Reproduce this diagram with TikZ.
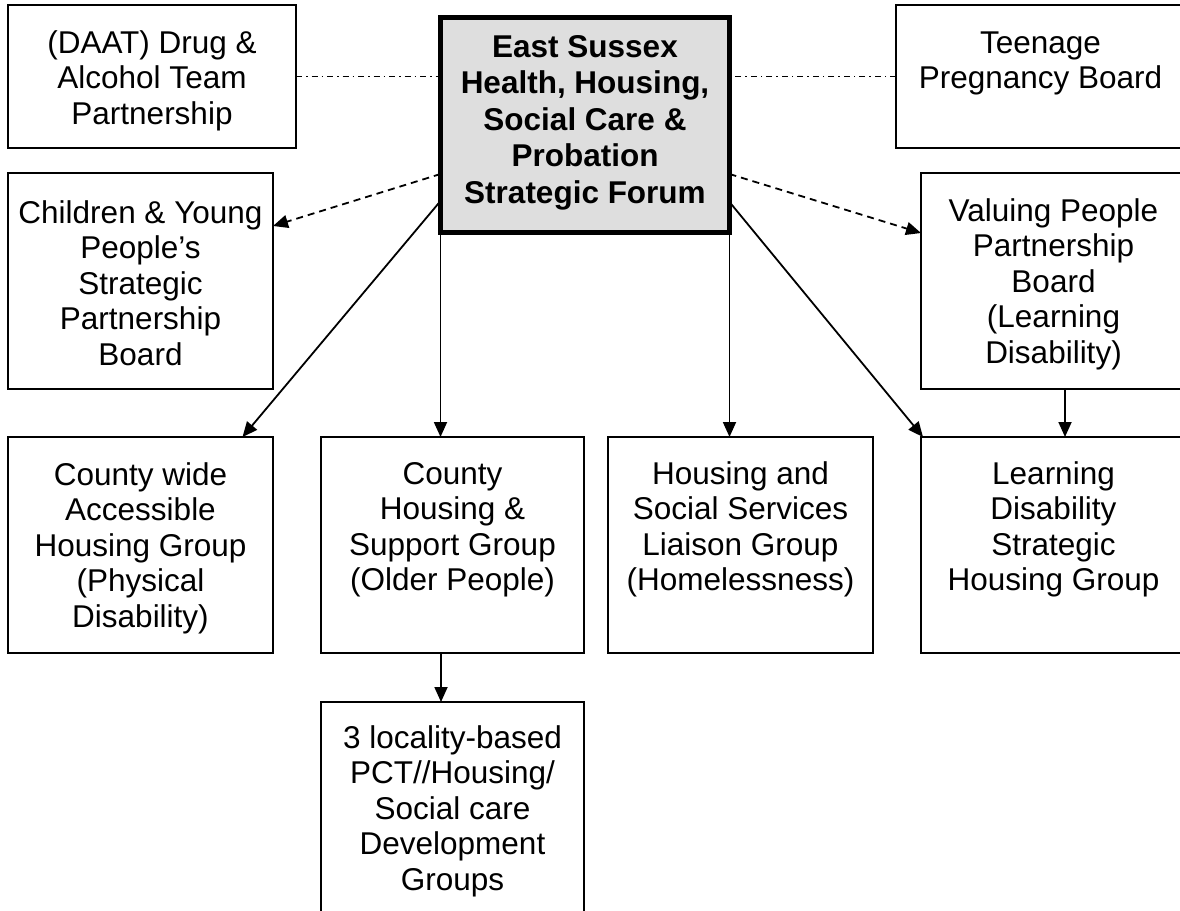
\documentclass[tikz,border=0pt]{standalone}
\usepackage{fontspec}
\setmainfont{Liberation Sans}
\usetikzlibrary{arrows.meta,calc}
\begin{document}
\begin{tikzpicture}[x=1pt,y=-1pt,
  box/.style={draw=black,line width=1.9pt,minimum width=265pt,minimum height=216pt,inner sep=0pt,outer sep=0pt},
  txt/.style={anchor=north,align=center,inner sep=0pt,font=\fontsize{31.5}{35.5}\selectfont},
  ctxt/.style={anchor=north,align=center,inner sep=0pt,font=\fontsize{31.5}{36.5}\selectfont\bfseries},
  arr/.style={line width=1.8pt,-{Triangle[length=15pt,width=13pt]}},
  darr/.style={arr,dash pattern=on 7pt off 5pt},
  dd/.style={line width=1.3pt,dash pattern=on 6pt off 4pt on 1.5pt off 4pt}]
\useasboundingbox (0,0) rectangle (1180,910);
\clip (0,0) rectangle (1180,910);

% boxes
\node[box,minimum width=288pt,minimum height=143pt] (daat) at (152,76.5) {};
\node[box,minimum width=289pt,minimum height=143pt] (tp) at (1040.5,76.5) {};
\node[box,line width=5pt,fill=black!13,minimum width=289pt,minimum height=215pt] (ctr) at (585,125) {};
\node[box] (cyp) at (140.5,281) {};
\node[box] (vp) at (1053.5,281) {};
\node[box] (cw) at (140.5,545) {};
\node[box,minimum width=263pt] (ch) at (452.5,545) {};
\node[box] (hs) at (740.5,545) {};
\node[box] (ld) at (1053.5,545) {};
\node[box,minimum width=263pt] (loc) at (452.5,810) {};

% texts
\node[txt] (daatt) at ([yshift=-23pt]daat.north) {\strut(DAAT) Drug \&\\Alcohol Team\\Partnership};
\node[txt] (tpt) at ([yshift=-23pt]tp.north) {\strut Teenage\\Pregnancy Board};
\node[ctxt] (ctrt) at ([yshift=-14pt]ctr.north) {\strut East Sussex\\Health, Housing,\\Social Care \&\\Probation\\Strategic Forum};
\node[txt] (cypt) at ([yshift=-25pt]cyp.north) {\strut Children \& Young\\People’s\\Strategic\\Partnership\\Board};
\node[txt] (vpt) at ([yshift=-23pt]vp.north) {\strut Valuing People\\Partnership\\Board\\(Learning\\Disability)};
\node[txt] (cwt) at ([yshift=-23pt]cw.north) {\strut County wide\\Accessible\\Housing Group\\(Physical\\Disability)};
\node[txt] (cht) at ([yshift=-22pt]ch.north) {\strut County\\Housing \&\\Support Group\\(Older People)};
\node[txt] (hst) at ([yshift=-22pt]hs.north) {\strut Housing and\\Social Services\\Liaison Group\\(Homelessness)};
\node[txt] (ldt) at ([yshift=-22pt]ld.north) {\strut Learning\\Disability\\Strategic\\Housing Group};
\node[txt] (loct) at ([yshift=-21pt]loc.north) {\strut 3 locality-based\\PCT//Housing/\\Social care\\Development\\Groups};

% connectors
\draw[dd] (daat.east) -- (daat.east -| ctr.west);
\draw[dd] (tp.west) -- (tp.west -| ctr.east);
\draw[darr] ([yshift=-49pt]ctr.west) -- ([yshift=55pt]cyp.east);
\draw[darr] ([yshift=-49pt]ctr.east) -- ([yshift=48pt]vp.west);
\draw[arr] ([yshift=-76pt]ctr.west) -- ([xshift=102pt]cw.north);
\draw[arr] ([yshift=-77pt]ctr.east) -- ([xshift=2pt]ld.north west);
\draw[arr] (ctr.south west) -- (ctr.south west |- ch.north);
\draw[arr] (ctr.south east) -- (ctr.south east |- hs.north);
\draw[arr] ([xshift=11.5pt]vp.south) -- ([xshift=11.5pt]ld.north);
\draw[arr] ([xshift=-11.5pt]ch.south) -- ([xshift=-11.5pt]loc.north);
\end{tikzpicture}
\end{document}
